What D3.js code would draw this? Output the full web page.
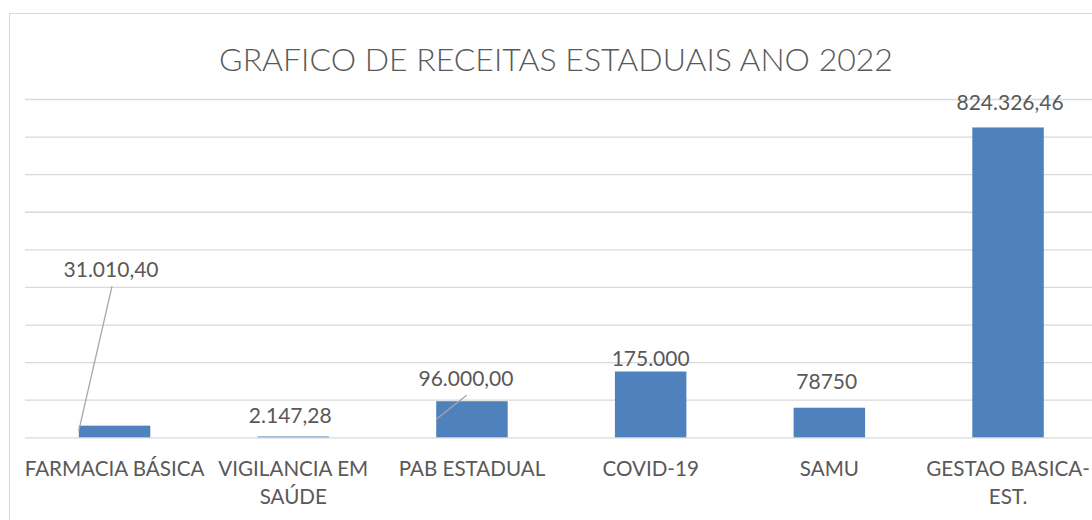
<!DOCTYPE html>
<html>
<head>
<meta charset="utf-8">
<script src="https://cdn.jsdelivr.net/npm/d3@7"></script>
<style>
  html, body { margin: 0; padding: 0; background: #fff; }
  svg { display: block; }
  text { font-family: Lato, "Open Sans", sans-serif; fill: #595959; }
</style>
</head>
<body>
<svg id="chart" width="1092" height="520"></svg>
<script>
const title = "GRAFICO DE RECEITAS ESTADUAIS ANO 2022";
const categories = ["FARMACIA BÁSICA", "VIGILANCIA EM SAÚDE", "PAB ESTADUAL", "COVID-19", "SAMU", "GESTAO BASICA-EST."];
const tickLines = [["FARMACIA BÁSICA"], ["VIGILANCIA EM", "SAÚDE"], ["PAB ESTADUAL"], ["COVID-19"], ["SAMU"], ["GESTAO BASICA-", "EST."]];
const values = [31010.40, 2147.28, 96000.00, 175000, 78750, 824326.46];
const valueLabels = ["31.010,40", "2.147,28", "96.000,00", "175.000", "78750", "824.326,46"];
const yTicks = [0, 100000, 200000, 300000, 400000, 500000, 600000, 700000, 800000, 900000];

// layout (label offsets from bar top-centre, px) kept separate from data
const labelOffsets = [[-3.5, -157.6], [-3, -21.5], [-6, -24], [0, -14], [-2.6, -27], [2, -26]];
const leaders = [true, false, true, false, false, false];

const svg = d3.select("#chart");
const W = 1092, H = 520;

// outer chart border
svg.append("rect").attr("x", 9.5).attr("y", 13.5).attr("width", W + 20).attr("height", H + 20)
  .attr("fill", "#fff").attr("stroke", "#d9d9d9").attr("stroke-width", 1);

const x = d3.scaleBand().domain(categories).range([25.2, 1097.4]).padding(0);
const y = d3.scaleLinear().domain([0, 900000]).range([437.3, 99]);

// gridlines
const yAxis = d3.axisLeft(y).tickValues(yTicks).tickSize(-(W + 10)).tickFormat("");
const gy = svg.append("g").attr("transform", "translate(25,0)").call(yAxis);
gy.select(".domain").remove();
gy.selectAll(".tick line").attr("stroke", "#d9d9d9").attr("stroke-width", 1.3);

// bars
const bw = x.bandwidth() * 0.4;
svg.append("g").selectAll("rect").data(values).join("rect")
  .attr("x", (d, i) => x(categories[i]) + (x.bandwidth() - bw) / 2)
  .attr("y", d => y(d))
  .attr("width", bw)
  .attr("height", d => y(0) - y(d))
  .attr("fill", "#4f81bd");

// leader lines
values.forEach((v, i) => {
  if (!leaders[i]) return;
  const cx = x(categories[i]) + x.bandwidth() / 2;
  const top = y(v);
  const lx = cx + labelOffsets[i][0] + (i === 0 ? 1 : 0.7);
  const ly = top + labelOffsets[i][1] + 18;
  const left = x(categories[i]) + (x.bandwidth() - bw) / 2;
  const endY = i === 0 ? top + 5 : top + 18;
  svg.append("line").attr("x1", lx).attr("y1", ly).attr("x2", left).attr("y2", endY)
    .attr("stroke", "#a6a6a6").attr("stroke-width", 1.3);
});

// value labels
svg.append("g").selectAll("text").data(values).join("text")
  .attr("x", (d, i) => x(categories[i]) + x.bandwidth() / 2 + labelOffsets[i][0])
  .attr("y", (d, i) => y(d) + labelOffsets[i][1])
  .attr("text-anchor", "middle")
  .attr("dominant-baseline", "central")
  .style("font-size", "21px")
  .text((d, i) => valueLabels[i]);

// x axis labels
const xAxis = d3.axisBottom(x).tickSize(0).tickFormat("");
const gx = svg.append("g").attr("transform", `translate(0,${y(0)})`).call(xAxis);
gx.select(".domain").remove();
gx.selectAll(".tick").each(function(d, i) {
  const t = d3.select(this).append("text")
    .attr("text-anchor", "middle")
    .style("font-size", "20.6px");
  tickLines[i].forEach((line, j) => {
    t.append("tspan").attr("x", 0).attr("y", 31 + j * 28).attr("dominant-baseline", "central").text(line);
  });
});

// title
svg.append("text").attr("x", 556).attr("y", 58)
  .attr("text-anchor", "middle").attr("dominant-baseline", "central")
  .style("font-size", "32px").style("font-weight", 300)
  .text(title);
</script>
</body>
</html>
